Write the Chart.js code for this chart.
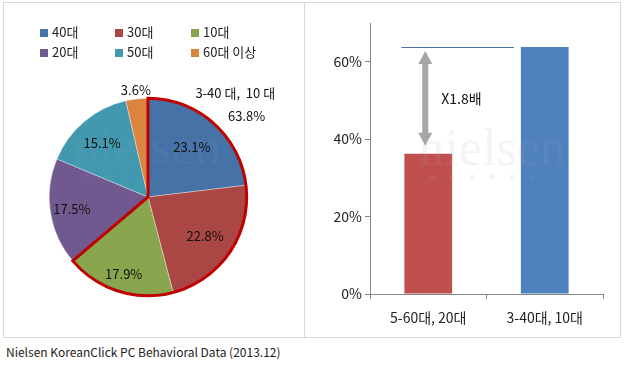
<!DOCTYPE html>
<html><head><meta charset="utf-8">
<script src="https://cdn.jsdelivr.net/npm/chart.js@4/dist/chart.umd.min.js"></script>
<style>
html,body{margin:0;padding:0;background:#fff;width:624px;height:365px;overflow:hidden;font-family:"Noto Sans CJK KR","Noto Sans",sans-serif;}
#frame{position:absolute;left:3px;top:2px;width:616px;height:334px;border:1px solid #d9d9d9;}
#divider{position:absolute;left:304px;top:2px;width:1px;height:335px;background:#d9d9d9;}
#pieWrap{position:absolute;left:4px;top:3px;width:300px;height:334px;}
#barWrap{position:absolute;left:306px;top:3px;width:314px;height:334px;}
.lg{position:absolute;font-size:13px;color:#222;line-height:14px;white-space:nowrap;}
.lg i{display:inline-block;width:8px;height:8px;margin-right:4px;vertical-align:0px;}
#foot{position:absolute;left:6px;top:343px;font-size:12px;color:#222;white-space:nowrap;}
</style></head>
<body>
<div id="frame"></div><div id="divider"></div>
<div id="pieWrap"><canvas id="pie"></canvas></div>
<div id="barWrap"><canvas id="bar"></canvas></div>
<div id="legend"></div>
<div id="foot"></div>
<script>
// ---- data ----
const pieLabels = ['40대','30대','10대','20대','50대','60대 이상'];
const pieValues = [23.1, 22.8, 17.9, 17.5, 15.1, 3.6];
const groupLabel = '3-40 대,  10 대';
const groupValue = 63.8;
const groupCount = 3; // first three slices form the group
const barLabels = ['5-60대, 20대', '3-40대, 10대'];
const barValues = [36.2, 63.8];
const yTickValues = [0, 20, 40, 60];
const ratioLabel = 'X1.8배';
const sourceNote = 'Nielsen KoreanClick PC Behavioral Data (2013.12)';

// ---- styles ----
const pieColors = ['#4572A7','#AA4643','#89A54E','#71588F','#4198AF','#DB843D'];
const barColors = ['#C0504D','#4F81BD'];
const labelRadius = [0.67, 0.70, 0.82, 0.78, 0.72, 1.09];
const FONT = '"Noto Sans CJK KR","Noto Sans",sans-serif';

// legend (HTML)
const legendPos = [[40,25],[115,25],[191,25],[40,45],[115,45],[191,45]];
const lg = document.getElementById('legend');
pieLabels.forEach((l,i)=>{
  const d=document.createElement('div'); d.className='lg';
  d.style.left=legendPos[i][0]+'px'; d.style.top=legendPos[i][1]+'px';
  d.innerHTML='<i style="background:'+pieColors[i]+'"></i>'+l;
  lg.appendChild(d);
});
document.getElementById('foot').textContent = sourceNote;

function watermark(ctx, cx, cy, alpha){
  ctx.save();
  ctx.globalAlpha = alpha;
  ctx.fillStyle = '#9aaab8';
  ctx.font = '52px "Liberation Serif","DejaVu Serif",serif';
  ctx.textAlign='center'; ctx.textBaseline='alphabetic';
  ctx.fillText('nielsen', cx, cy);
  for(let k=0;k<7;k++){ ctx.beginPath(); ctx.arc(cx-60+k*20, cy+12, 2.5, 0, Math.PI*2); ctx.fill(); }
  ctx.restore();
}

const piePlugin = {
  id:'piePlugin',
  afterDatasetsDraw(chart){
    const ctx = chart.ctx;
    const arcs = chart.getDatasetMeta(0).data;
    const a0 = arcs[0], aN = arcs[groupCount-1];
    const cx=a0.x, cy=a0.y, r=a0.outerRadius;
    watermark(ctx, cx-1, cy-33, 0.10);
    // group outline
    ctx.save();
    ctx.strokeStyle='#C00000'; ctx.lineWidth=3; ctx.lineJoin='miter';
    ctx.beginPath();
    ctx.moveTo(cx,cy);
    ctx.lineTo(cx+Math.cos(a0.startAngle)*r, cy+Math.sin(a0.startAngle)*r);
    ctx.arc(cx,cy,r,a0.startAngle,aN.endAngle);
    ctx.closePath();
    ctx.stroke();
    ctx.restore();
    // labels
    ctx.save();
    ctx.fillStyle='#111'; ctx.font='13px '+FONT; ctx.textAlign='center'; ctx.textBaseline='middle';
    arcs.forEach((a,i)=>{
      const m=(a.startAngle+a.endAngle)/2, rr=r*labelRadius[i];
      ctx.fillText(pieValues[i].toFixed(1)+'%', cx+Math.cos(m)*rr, cy+Math.sin(m)*rr);
    });
    ctx.textAlign='left';
    ctx.fillText(groupLabel, cx+r*0.48, cy-r*1.05);
    ctx.fillText(groupValue.toFixed(1)+'%', cx+r*0.81, cy-r*0.82);
    ctx.restore();
  }
};

new Chart(document.getElementById('pie'), {
  type:'pie',
  data:{labels:pieLabels, datasets:[{data:pieValues, backgroundColor:pieColors, borderColor:'rgba(255,255,255,0.6)', borderWidth:0.6}]},
  options:{
    responsive:true, maintainAspectRatio:false, animation:false,
    layout:{padding:{left:45,right:57,top:95,bottom:41}},
    plugins:{legend:{display:false}, tooltip:{enabled:false}}
  },
  plugins:[piePlugin]
});

const barPlugin = {
  id:'barPlugin',
  afterDatasetsDraw(chart){
    const ctx=chart.ctx, ys=chart.scales.y;
    const bars=chart.getDatasetMeta(0).data;
    const b0=bars[0], b1=bars[1];
    const yTop=ys.getPixelForValue(barValues[1]);
    const yLow=ys.getPixelForValue(barValues[0]);
    watermark(ctx, b0.x+64, yLow+11, 0.13);
    ctx.save();
    // reference line
    ctx.strokeStyle='#4a6fa5'; ctx.lineWidth=1;
    ctx.beginPath(); ctx.moveTo(b0.x-b0.width/2-3, yTop+0.5); ctx.lineTo(b1.x-b1.width/2-7, yTop+0.5); ctx.stroke();
    // double arrow
    const ax=b0.x-3, t=yTop+4, b=yLow-8, hw=7, hl=13, sw=3;
    ctx.fillStyle='#a6a6a6';
    ctx.beginPath();
    ctx.moveTo(ax,t); ctx.lineTo(ax+hw,t+hl); ctx.lineTo(ax+sw,t+hl); ctx.lineTo(ax+sw,b-hl);
    ctx.lineTo(ax+hw,b-hl); ctx.lineTo(ax,b); ctx.lineTo(ax-hw,b-hl); ctx.lineTo(ax-sw,b-hl);
    ctx.lineTo(ax-sw,t+hl); ctx.lineTo(ax-hw,t+hl); ctx.closePath(); ctx.fill();
    // ratio text
    ctx.fillStyle='#111'; ctx.font='14px '+FONT; ctx.textAlign='left'; ctx.textBaseline='middle';
    ctx.fillText(ratioLabel, ax+16, (yTop+yLow)/2-2);
    ctx.restore();
  }
};

new Chart(document.getElementById('bar'), {
  type:'bar',
  data:{labels:barLabels, datasets:[{data:barValues, backgroundColor:barColors, categoryPercentage:1, barPercentage:0.41}]},
  options:{
    responsive:true, maintainAspectRatio:false, animation:false,
    layout:{padding:{left:0,right:17,top:20,bottom:0}},
    plugins:{legend:{display:false}, tooltip:{enabled:false}},
    scales:{
      y:{min:0,max:70,
        afterBuildTicks(s){ s.ticks = yTickValues.map(v=>({value:v})); },
        afterFit(s){ s.width=64; },
        grid:{display:true, drawOnChartArea:false, drawTicks:true, tickLength:5, color:'#868686'},
        border:{color:'#868686', width:1},
        ticks:{color:'#222', font:{family:FONT,size:14}, padding:3, callback:v=>v+'%'}
      },
      x:{
        afterFit(s){ s.height=43; },
        grid:{display:true, offset:true, drawOnChartArea:false, drawTicks:true, tickLength:5, color:'#868686'},
        border:{color:'#868686', width:1},
        ticks:{color:'#222', font:{family:FONT,size:14}, padding:10}
      }
    }
  },
  plugins:[barPlugin]
});
</script>
</body></html>
